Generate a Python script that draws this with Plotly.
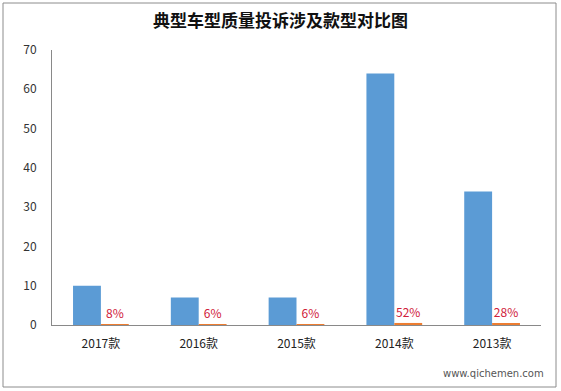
import plotly.graph_objects as go

categories = ["2017款", "2016款", "2015款", "2014款", "2013款"]
complaints = [10, 7, 7, 64, 34]
share = [0.08, 0.06, 0.06, 0.52, 0.28]
share_labels = ["8%", "6%", "6%", "52%", "28%"]
y_ticks = [0, 10, 20, 30, 40, 50, 60, 70]

FONT = "Noto Sans CJK SC, Noto Sans, sans-serif"

fig = go.Figure()
fig.add_trace(go.Bar(x=categories, y=complaints, marker=dict(color="#5B9BD5", line_width=0),
                     showlegend=False, hoverinfo="y"))
fig.add_trace(go.Bar(x=categories, y=share, marker=dict(color="#ED7D31", line_width=0),
                     text=share_labels, textposition="outside", cliponaxis=False,
                     textfont=dict(color="#D0203A", size=12, family=FONT),
                     showlegend=False, hoverinfo="y"))

fig.update_layout(
    width=561, height=391,
    margin=dict(l=52, r=20, t=50, b=66),
    paper_bgcolor="white", plot_bgcolor="white",
    barmode="group", bargap=0.43, bargroupgap=0,
    title=dict(text="<b>典型车型质量投诉涉及款型对比图</b>", x=0.5, xanchor="center",
               y=0.945, yanchor="middle",
               font=dict(family=FONT, size=17, color="#111111")),
    xaxis=dict(showline=True, linecolor="#898989", linewidth=1, ticks="",
               tickfont=dict(family=FONT, size=12, color="#222222"),
               showgrid=False, zeroline=False, ticklabelstandoff=8),
    yaxis=dict(range=[0, 70], tickvals=y_ticks, showline=True, linecolor="#898989",
               linewidth=1, ticks="", showgrid=False, zeroline=False,
               tickfont=dict(family=FONT, size=12, color="#333333"), ticklabelstandoff=12),
    shapes=[dict(type="rect", xref="paper", yref="paper",
                 x0=-0.1002, x1=1.0307, y0=-0.2255, y1=1.1709,
                 line=dict(color="#8C8C8C", width=1), fillcolor="rgba(0,0,0,0)")],
    annotations=[dict(text="www.qichemen.com", xref="paper", yref="paper",
                      x=1.01, y=-0.175, xanchor="right", yanchor="middle", showarrow=False,
                      font=dict(family="DejaVu Sans, sans-serif", size=10, color="#555555"))],
)

fig.write_html("out.html", config={"displayModeBar": False},
               post_script="document.body.style.margin='0';document.body.style.overflow='hidden';")
